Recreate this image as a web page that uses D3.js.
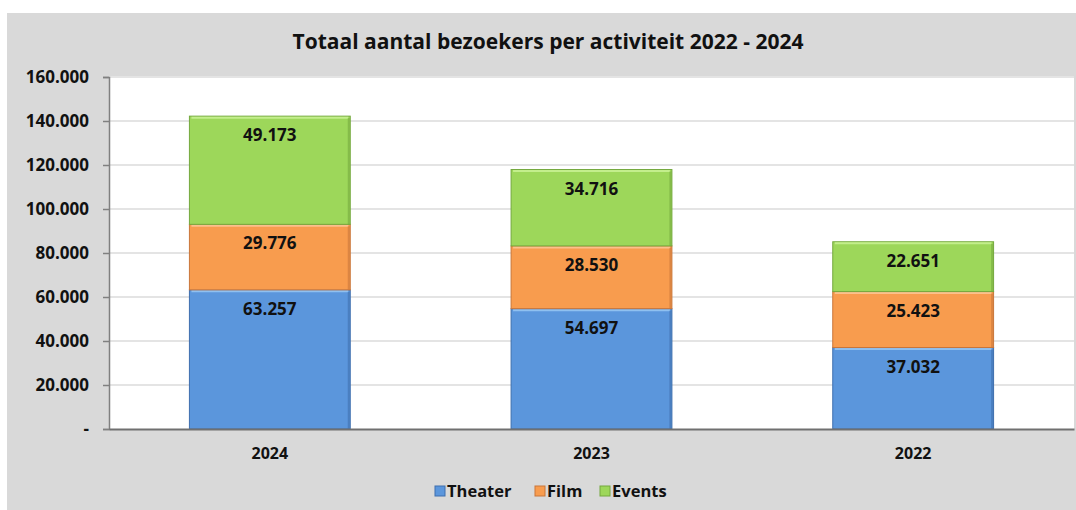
<!DOCTYPE html>
<html>
<head>
<meta charset="utf-8">
<script src="https://cdn.jsdelivr.net/npm/d3@7"></script>
<style>
  body { margin: 0; background: #fff; }
  text { font-family: "Open Sans", "DejaVu Sans", sans-serif; }
</style>
</head>
<body>
<div id="chart"></div>
<script>
const years = ['2024', '2023', '2022'];
const seriesNames = ['Theater', 'Film', 'Events'];
const theater = [63257, 54697, 37032];
const film = [29776, 28530, 25423];
const events = [49173, 34716, 22651];
const yTicks = [0, 20000, 40000, 60000, 80000, 100000, 120000, 140000, 160000];

const colors = { Theater: '#5b96dc', Film: '#f89c4e', Events: '#9dd75a' };
const dark = { Theater: '#3f6fae', Film: '#c9763a', Events: '#74a83e' };
const light = { Theater: '#8fc0f0', Film: '#fcc08c', Events: '#c3ee8c' };

const width = 1076, height = 510;
const margin = { top: 77, right: 2, bottom: 81, left: 109 };

const fmt = v => v === 0 ? '-' : d3.format(',')(v).replace(/,/g, '.');

const rows = years.map((y, i) => ({ year: y, Theater: theater[i], Film: film[i], Events: events[i] }));
const stacked = d3.stack().keys(seriesNames)(rows);

const svg = d3.select('#chart').append('svg')
  .attr('width', width)
  .attr('height', height);

// grey frame
svg.append('rect')
  .attr('x', 7).attr('y', 13)
  .attr('width', width - 7).attr('height', height - 13)
  .attr('fill', '#d9d9d9');

const x = d3.scaleBand()
  .domain(years)
  .range([margin.left, width - margin.right])
  .paddingInner(0.5).paddingOuter(0.25);

const y = d3.scaleLinear()
  .domain([0, 160000])
  .range([height - margin.bottom, margin.top]);

// plot area
svg.append('rect')
  .attr('x', margin.left).attr('y', margin.top)
  .attr('width', width - margin.right - margin.left)
  .attr('height', y(0) - margin.top)
  .attr('fill', '#ffffff');

// grid
svg.append('g')
  .selectAll('line')
  .data(yTicks.slice(1))
  .join('line')
  .attr('x1', margin.left).attr('x2', width - margin.right)
  .attr('y1', d => y(d)).attr('y2', d => y(d))
  .attr('stroke', '#e4e4e4')
  .attr('stroke-width', 2);

// title
svg.append('text')
  .attr('x', 548).attr('y', 49)
  .attr('text-anchor', 'middle')
  .style('font-size', '21px')
  .style('font-weight', 'bold')
  .attr('fill', '#111')
  .text('Totaal aantal bezoekers per activiteit 2022 - 2024');

// bars
const layer = svg.append('g')
  .selectAll('g')
  .data(stacked)
  .join('g');

const seg = layer.selectAll('g')
  .data(d => d.map(p => ({ key: d.key, p })))
  .join('g');

seg.append('rect')
  .attr('x', d => x(d.p.data.year))
  .attr('y', d => y(d.p[1]))
  .attr('width', x.bandwidth())
  .attr('height', d => y(d.p[0]) - y(d.p[1]))
  .attr('fill', d => colors[d.key])
  .attr('stroke', d => dark[d.key])
  .attr('stroke-width', 1);

// bevel highlight on top edge
seg.append('line')
  .attr('x1', d => x(d.p.data.year) + 2)
  .attr('x2', d => x(d.p.data.year) + x.bandwidth() - 2)
  .attr('y1', d => y(d.p[1]) + 1.5)
  .attr('y2', d => y(d.p[1]) + 1.5)
  .attr('stroke', d => light[d.key])
  .attr('stroke-width', 2);

// darker right edge
seg.append('line')
  .attr('x1', d => x(d.p.data.year) + x.bandwidth() - 1.5)
  .attr('x2', d => x(d.p.data.year) + x.bandwidth() - 1.5)
  .attr('y1', d => y(d.p[1]) + 2)
  .attr('y2', d => y(d.p[0]))
  .attr('stroke', d => dark[d.key])
  .attr('stroke-opacity', 0.6)
  .attr('stroke-width', 2);

seg.append('text')
  .attr('x', d => x(d.p.data.year) + x.bandwidth() / 2)
  .attr('y', d => y(d.p[1]) + 25)
  .attr('text-anchor', 'middle')
  .style('font-size', '17px')
  .style('font-weight', 'bold')
  .attr('fill', '#111')
  .text(d => fmt(d.p.data[d.key]));

// axes
const yAxis = d3.axisLeft(y)
  .tickValues(yTicks)
  .tickSize(6)
  .tickPadding(14)
  .tickFormat(fmt);

const gy = svg.append('g')
  .attr('transform', `translate(${margin.left},0)`)
  .call(yAxis);
gy.select('.domain').attr('stroke', '#808080').attr('stroke-width', 1.5);
gy.selectAll('.tick line').attr('stroke', '#808080').attr('stroke-width', 1.5);
gy.selectAll('.tick text')
  .style('font-size', '17px')
  .style('font-weight', 'bold')
  .style('font-family', '"Open Sans", sans-serif')
  .attr('fill', '#111');

const xAxis = d3.axisBottom(x).tickSize(0).tickPadding(19);
const gx = svg.append('g')
  .attr('transform', `translate(0,${y(0)})`)
  .call(xAxis);
gx.select('.domain').attr('stroke', '#707070').attr('stroke-width', 2);
gx.selectAll('.tick text')
  .style('font-size', '16px')
  .style('font-weight', 'bold')
  .style('font-family', '"Open Sans", sans-serif')
  .attr('fill', '#111');

// legend
const legendX = [435, 535, 600];
const legend = svg.append('g')
  .selectAll('g')
  .data(seriesNames)
  .join('g')
  .attr('transform', (d, i) => `translate(${legendX[i]},486)`);

legend.append('rect')
  .attr('width', 10).attr('height', 10)
  .attr('fill', d => colors[d])
  .attr('stroke', d => dark[d])
  .attr('stroke-width', 1);

legend.append('text')
  .attr('x', 12).attr('y', 11)
  .style('font-size', '16.5px')
  .style('font-weight', 'bold')
  .attr('fill', '#111')
  .text(d => d);
</script>
</body>
</html>
